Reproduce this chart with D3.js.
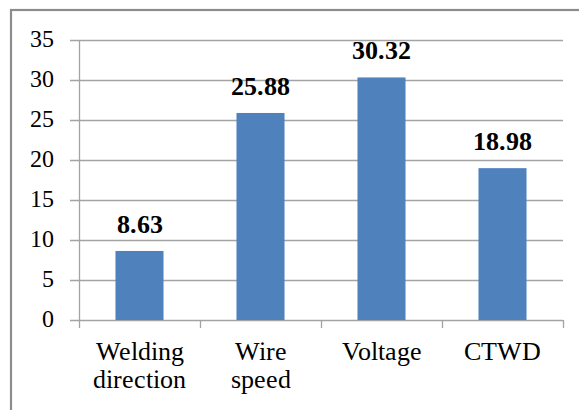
<!DOCTYPE html>
<html><head><meta charset="utf-8">
<script src="https://cdn.jsdelivr.net/npm/d3@7"></script>
<style>
@font-face { font-family: "ChartSerif"; src: local("Liberation Serif"), local("LiberationSerif"), local("Liberation Serif Regular"); font-weight: normal; }
@font-face { font-family: "ChartSerif"; src: local("Liberation Serif Bold"), local("LiberationSerif-Bold"); font-weight: bold; }
</style>
</head><body style="margin:0">
<script>
const categories = [["Welding","direction"],["Wire","speed"],["Voltage"],["CTWD"]];
const values = [8.63, 25.88, 30.32, 18.98];
const valueLabels = ["8.63","25.88","30.32","18.98"];
const yTicks = [0,5,10,15,20,25,30,35];

(function() {
const FONT = '"ChartSerif", "Liberation Serif", "Times New Roman", Tinos, serif';
const W = 579, H = 410;
const svg = d3.select("body").append("svg").attr("width", W).attr("height", H)
  .style("display", "block").style("font-family", FONT);
svg.append("rect").attr("x", 11).attr("y", 10).attr("width", 600).attr("height", 450)
  .attr("fill", "none").attr("stroke", "#8c8c8c").attr("stroke-width", 2.2);

const pLeft = 79, pRight = 563, pTop = 40, pBottom = 320;
const x = d3.scaleBand().domain(d3.range(categories.length)).range([pLeft, pRight])
  .paddingInner(0.603).paddingOuter(0.3015);
const y = d3.scaleLinear().domain([0, 35]).range([pBottom, pTop]);
const grey = "#a3a3a3";

svg.append("g").selectAll("line").data(yTicks).join("line")
  .attr("x1", pLeft - 9).attr("x2", pRight)
  .attr("y1", d => y(d) + 0.5).attr("y2", d => y(d) + 0.5)
  .attr("stroke", grey).attr("stroke-width", 1.3);
svg.append("line").attr("x1", pLeft + 0.5).attr("x2", pLeft + 0.5).attr("y1", pTop).attr("y2", pBottom)
  .attr("stroke", grey).attr("stroke-width", 1.3);
const step = x.step();
svg.append("g").selectAll("line").data(d3.range(categories.length + 1)).join("line")
  .attr("x1", d => pLeft + d * step + 0.5).attr("x2", d => pLeft + d * step + 0.5)
  .attr("y1", pBottom).attr("y2", pBottom + 8)
  .attr("stroke", grey).attr("stroke-width", 1.3);

svg.selectAll("text.ytick").data(yTicks).join("text").attr("class", "ytick")
  .attr("x", 54).attr("y", d => y(d) + 7)
  .attr("text-anchor", "end")
  .style("font-family", FONT).style("font-size", "24px")
  .attr("fill", "#000").text(d => d);

svg.append("g").selectAll("rect").data(values).join("rect")
  .attr("x", (d, i) => x(i)).attr("width", x.bandwidth())
  .attr("y", d => y(d)).attr("height", d => y(0) - y(d))
  .attr("fill", "#4f81bd");

svg.selectAll("text.val").data(values).join("text").attr("class", "val")
  .attr("x", (d, i) => x(i) + x.bandwidth() / 2).attr("y", d => y(d) - 18)
  .attr("text-anchor", "middle")
  .style("font-family", FONT).style("font-size", "26px").style("font-weight", "bold")
  .attr("fill", "#000")
  .text((d, i) => valueLabels[i]);

const cat = svg.selectAll("text.cat").data(categories).join("text").attr("class", "cat")
  .attr("x", (d, i) => x(i) + x.bandwidth() / 2).attr("y", 360)
  .attr("text-anchor", "middle")
  .style("font-family", FONT).style("font-size", "26px")
  .attr("fill", "#000");
cat.selectAll("tspan").data(d => d).join("tspan")
  .attr("x", function() { return d3.select(this.parentNode).attr("x"); })
  .attr("dy", (d, j) => j === 0 ? 0 : 28)
  .style("font-family", FONT)
  .text(d => d);
})();
</script>
</body></html>
